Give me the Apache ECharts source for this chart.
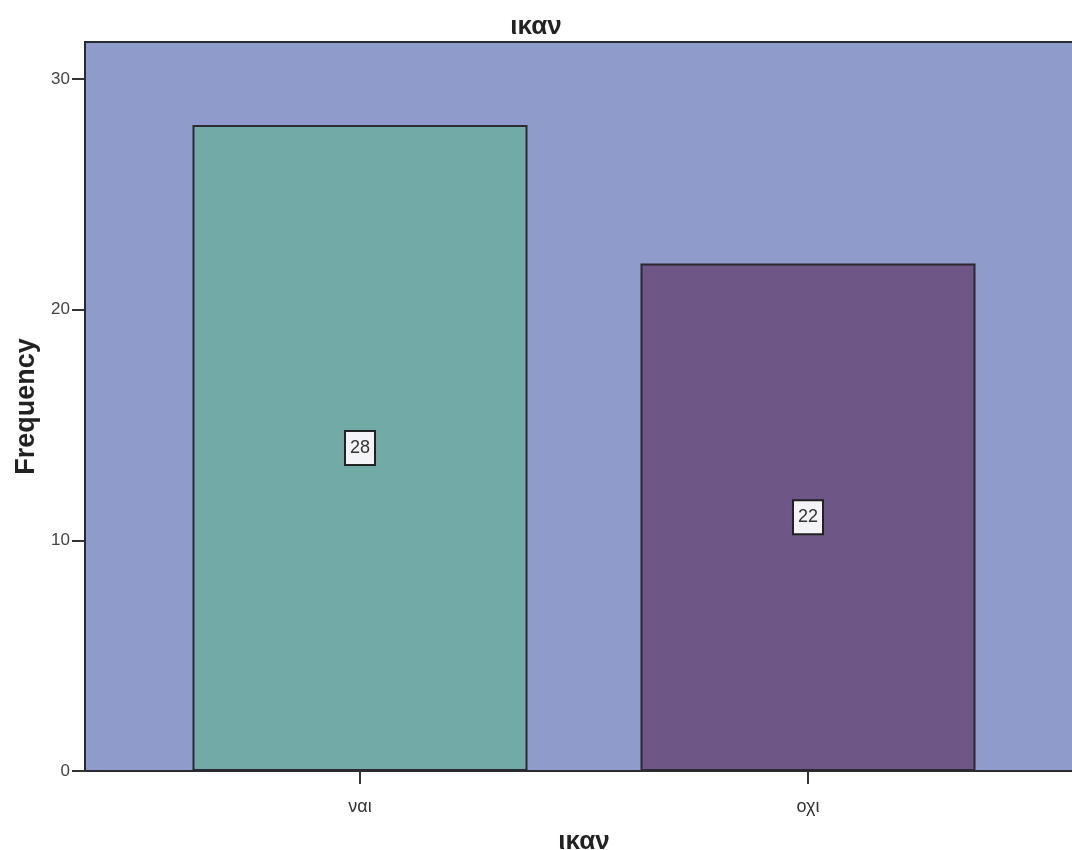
<!DOCTYPE html>
<html>
<head>
<meta charset="utf-8">
<script src="https://cdn.jsdelivr.net/npm/echarts@6/dist/echarts.min.js"></script>
<style>html,body{margin:0;padding:0;background:#fff}#c{width:1072px;height:850px}</style>
</head>
<body>
<div id="c"></div>
<script>
var categories = ['ναι', 'οχι'];
var values = [28, 22];
var barColors = ['#72AAA8', '#6E5687'];
var yTicks = [0, 10, 20, 30];
var titleText = 'ικαν';
var xName = 'ικαν';
var yName = 'Frequency';

var chart = echarts.init(document.getElementById('c'), null, {renderer: 'canvas'});
var font = '"Liberation Sans", Arial, sans-serif';
var option = {
  animation: false,
  backgroundColor: '#ffffff',
  title: {
    text: titleText, left: 'center', top: 9,
    textStyle: {fontFamily: font, fontSize: 26, fontWeight: 'bold', color: '#222'}
  },
  grid: [
    {left: 85, top: 42, right: -14, bottom: 79, show: true, backgroundColor: '#8F9BCB',
     borderColor: '#2a2a30', borderWidth: 2, outerBoundsMode: 'none', containLabel: false},
    {left: 136, top: 42, right: 40, bottom: 79, outerBoundsMode: 'none', containLabel: false}
  ],
  xAxis: [
    {gridIndex: 0, type: 'category', data: [''], show: false},
    {gridIndex: 1, type: 'category', data: categories,
     axisLine: {show: false},
     axisTick: {show: true, alignWithLabel: true, length: 13, lineStyle: {color: '#333', width: 2}},
     axisLabel: {fontFamily: font, fontSize: 18, color: '#333', margin: 27},
     name: xName, nameLocation: 'middle', nameGap: 58,
     nameTextStyle: {fontFamily: font, fontSize: 26, fontWeight: 'bold', color: '#222'}}
  ],
  yAxis: [
    {gridIndex: 0, type: 'value', min: 0, max: 31.6, interval: 10,
     axisLine: {show: true, lineStyle: {color: '#2a2a30', width: 2}},
     axisTick: {show: true, length: 13, customValues: yTicks, lineStyle: {color: '#333', width: 2}},
     axisLabel: {fontFamily: font, fontSize: 17, color: '#444', margin: 15, customValues: yTicks},
     splitLine: {show: false},
     name: yName, nameLocation: 'middle', nameGap: 45,
     nameTextStyle: {fontFamily: font, fontSize: 27, fontWeight: 'bold', color: '#222'}},
    {gridIndex: 1, type: 'value', min: 0, max: 31.6, show: false, splitLine: {show: false}}
  ],
  series: [{
    type: 'bar', xAxisIndex: 1, yAxisIndex: 1,
    barWidth: 335,
    data: values.map(function (v, i) {
      return {value: v, itemStyle: {color: barColors[i]}};
    }),
    itemStyle: {borderColor: '#2a2a30', borderWidth: 2},
    label: {
      show: true, position: 'inside',
      fontFamily: font, fontSize: 18, color: '#333',
      backgroundColor: '#F4F4F8', borderColor: '#222', borderWidth: 2,
      padding: [8, 4, 6, 4]
    }
  }]
};
chart.setOption(option);
</script>
</body>
</html>
